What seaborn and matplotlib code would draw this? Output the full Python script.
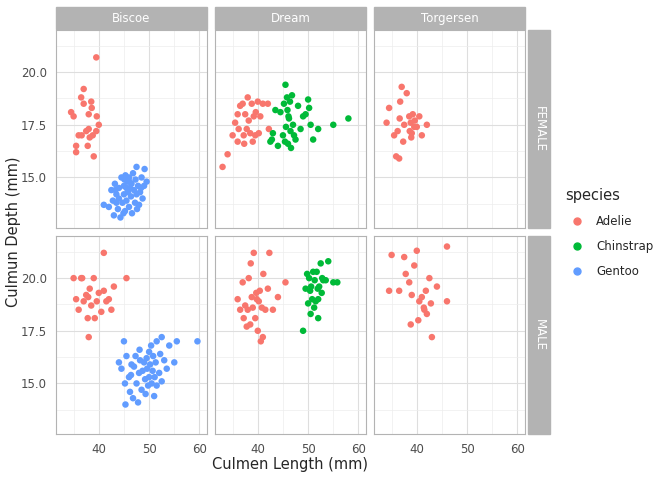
import matplotlib
matplotlib.use("Agg")
import matplotlib.pyplot as plt
import seaborn as sns
import pandas as pd
from matplotlib.patches import Rectangle
from matplotlib.lines import Line2D

islands = ["Biscoe", "Dream", "Torgersen"]
sexes = ["FEMALE", "MALE"]
species_names = ["Adelie", "Chinstrap", "Gentoo"]
palette = {"Adelie": "#F8766D", "Chinstrap": "#00BA38", "Gentoo": "#619CFF"}

# (island, sex, species) -> list of (culmen length, culmen depth)
biscoe_f_adelie = [(34.5, 18.1), (35.0, 17.9), (35.5, 16.2), (36.0, 17.0), (36.5, 18.8), (37.0, 19.2),
                   (37.5, 17.2), (37.8, 16.5), (38.0, 18.0), (38.2, 16.9), (38.5, 18.6), (38.8, 17.0),
                   (39.0, 16.0), (39.5, 17.2), (40.0, 17.5), (39.5, 20.7), (35.5, 16.5), (37.0, 18.5),
                   (38.0, 17.3), (36.6, 17.0), (38.6, 18.3), (39.6, 17.9)]
biscoe_f_gentoo = [(41.0, 13.7), (42.0, 13.6), (42.5, 14.4), (42.8, 13.9), (43.0, 13.2), (43.2, 14.7),
                   (43.5, 13.8), (43.5, 14.2), (43.8, 13.5), (44.0, 14.0), (44.0, 14.5), (44.3, 13.1),
                   (44.5, 15.0), (44.7, 13.8), (45.0, 14.2), (45.0, 14.6), (45.2, 13.4), (45.3, 15.1),
                   (45.5, 14.5), (45.5, 13.9), (45.7, 14.8), (45.8, 14.3), (46.0, 13.6), (46.0, 15.0),
                   (46.2, 14.5), (46.4, 14.1), (46.5, 14.7), (46.6, 13.3), (46.8, 15.2), (47.0, 14.4),
                   (47.2, 13.8), (47.3, 14.9), (47.5, 14.2), (47.5, 15.5), (47.8, 14.6), (48.0, 13.7),
                   (48.2, 14.3), (48.5, 15.0), (48.7, 14.0), (49.0, 14.6), (49.1, 15.4), (49.5, 14.8),
                   (46.1, 14.8), (45.1, 14.9), (44.9, 13.3), (43.3, 14.4), (47.6, 13.5), (48.4, 14.5)]
biscoe_m_adelie = [(35.0, 20.0), (35.5, 19.0), (36.0, 18.5), (36.5, 20.0), (37.0, 18.9), (37.5, 19.2),
                   (37.8, 18.1), (38.0, 17.2), (38.2, 19.5), (38.5, 18.7), (39.0, 20.0), (39.2, 18.1),
                   (39.6, 18.9), (40.0, 19.3), (40.5, 18.4), (41.0, 19.4), (41.0, 21.2), (41.5, 18.9),
                   (42.0, 19.0), (42.5, 18.5), (43.0, 19.6), (45.5, 20.0), (36.7, 20.0), (37.9, 19.1)]
biscoe_m_gentoo = [(44.0, 16.0), (44.5, 15.7), (45.0, 17.0), (45.2, 15.0), (45.5, 16.3), (46.0, 15.3),
                   (46.2, 14.6), (46.5, 15.9), (46.8, 14.3), (47.0, 15.8), (47.3, 16.3), (47.5, 15.0),
                   (47.8, 14.1), (48.0, 15.5), (48.2, 16.1), (48.5, 14.7), (48.7, 15.6), (49.0, 16.0),
                   (49.2, 15.2), (49.5, 16.2), (49.6, 15.7), (49.8, 14.9), (50.0, 15.3), (50.0, 16.5),
                   (50.2, 15.9), (50.4, 16.8), (50.5, 15.0), (50.7, 15.6), (50.8, 16.3), (51.0, 14.4),
                   (51.1, 15.3), (51.3, 16.0), (51.5, 17.0), (51.5, 14.9), (52.0, 15.5), (52.2, 16.4),
                   (52.5, 15.1), (52.5, 17.2), (53.0, 16.1), (53.5, 15.7), (54.0, 16.8), (55.0, 16.0),
                   (55.5, 17.0), (59.6, 17.0), (49.3, 14.5), (48.1, 16.6), (46.4, 15.4), (45.3, 14.0)]
dream_f_adelie = [(33.0, 15.5), (34.0, 16.1), (35.0, 17.0), (35.5, 17.6), (36.0, 18.0), (36.0, 16.7),
                  (36.5, 18.4), (37.0, 18.5), (37.2, 17.0), (37.5, 18.0), (37.8, 17.3), (38.0, 18.8),
                  (38.2, 17.7), (38.5, 17.1), (38.8, 18.5), (39.0, 16.7), (39.2, 17.9), (39.5, 17.0),
                  (39.6, 18.1), (40.0, 18.6), (40.2, 17.1), (40.5, 17.9), (41.0, 18.5), (42.0, 18.5),
                  (42.2, 17.3), (36.2, 17.3), (37.3, 16.6)]
dream_f_chinstrap = [(42.5, 16.7), (43.0, 17.1), (43.5, 18.2), (44.0, 16.5), (45.0, 17.0), (45.2, 18.5),
                     (45.5, 19.4), (45.6, 17.4), (45.8, 18.8), (46.0, 16.6), (46.2, 17.8), (46.4, 18.6),
                     (46.5, 17.2), (46.6, 16.4), (46.8, 18.9), (47.0, 17.5), (47.5, 16.8), (48.0, 18.4),
                     (48.5, 17.3), (49.0, 17.9), (49.5, 18.0), (50.0, 18.7), (50.2, 18.3), (50.5, 17.5),
                     (51.0, 16.8), (52.0, 17.3), (55.0, 17.5), (58.0, 17.8), (46.1, 17.9), (47.2, 17.0),
                     (44.5, 18.1), (42.8, 16.8), (45.4, 16.7), (45.9, 18.2)]
dream_m_adelie = [(36.0, 19.0), (36.5, 18.5), (37.0, 19.8), (37.5, 18.7), (37.8, 17.7), (38.0, 18.5),
                  (38.2, 20.0), (38.5, 17.8), (38.8, 19.1), (39.0, 18.6), (39.2, 21.2), (39.5, 18.1),
                  (39.7, 19.3), (40.0, 17.5), (40.2, 18.9), (40.4, 19.4), (40.6, 17.0), (40.8, 18.6),
                  (41.0, 17.2), (41.1, 20.2), (41.5, 18.5), (42.0, 19.5), (42.3, 21.2), (43.0, 18.5),
                  (44.0, 19.1), (45.5, 19.8), (37.2, 18.1), (39.8, 19.0), (38.6, 20.7)]
dream_m_chinstrap = [(49.0, 17.5), (49.5, 19.5), (50.0, 18.8), (50.2, 20.0), (50.4, 19.4), (50.5, 18.3),
                     (50.8, 19.0), (51.0, 20.3), (51.2, 18.6), (51.3, 19.9), (51.5, 18.9), (51.7, 20.3),
                     (52.0, 19.0), (52.0, 18.1), (52.2, 19.6), (52.5, 20.7), (52.7, 19.3), (52.8, 20.0),
                     (53.0, 19.9), (53.5, 19.9), (54.0, 20.8), (55.0, 19.8), (55.8, 19.8), (50.6, 19.6),
                     (49.8, 20.2), (51.9, 19.5)]
torgersen_f_adelie = [(34.0, 17.6), (34.5, 18.3), (35.5, 17.0), (35.9, 16.0), (36.2, 17.2), (36.5, 15.9),
                      (36.7, 18.6), (37.0, 19.3), (37.3, 16.7), (37.5, 17.5), (38.0, 19.0), (38.5, 17.9),
                      (38.6, 17.2), (38.8, 17.6), (39.0, 17.1), (39.2, 18.0), (39.5, 17.4), (39.6, 17.7),
                      (40.0, 17.4), (40.5, 17.9), (41.0, 17.0), (42.0, 17.5), (38.9, 16.9), (36.6, 17.8)]
torgersen_m_adelie = [(34.5, 19.4), (35.0, 21.1), (36.5, 19.4), (37.5, 21.0), (37.8, 20.2), (38.5, 19.8),
                      (38.8, 17.8), (39.0, 19.2), (39.5, 20.6), (40.0, 21.3), (40.5, 18.9), (41.0, 19.1),
                      (41.5, 18.5), (41.8, 19.4), (42.0, 18.3), (42.5, 20.0), (42.8, 18.8), (43.0, 17.2),
                      (44.0, 19.6), (46.0, 21.5), (46.0, 18.9), (40.3, 18.0), (41.4, 18.6)]

groups = [
    ("Biscoe", "FEMALE", "Adelie", biscoe_f_adelie), ("Biscoe", "FEMALE", "Gentoo", biscoe_f_gentoo),
    ("Biscoe", "MALE", "Adelie", biscoe_m_adelie), ("Biscoe", "MALE", "Gentoo", biscoe_m_gentoo),
    ("Dream", "FEMALE", "Adelie", dream_f_adelie), ("Dream", "FEMALE", "Chinstrap", dream_f_chinstrap),
    ("Dream", "MALE", "Adelie", dream_m_adelie), ("Dream", "MALE", "Chinstrap", dream_m_chinstrap),
    ("Torgersen", "FEMALE", "Adelie", torgersen_f_adelie), ("Torgersen", "MALE", "Adelie", torgersen_m_adelie),
]
rows = []
for isl, sex, sp, pts in groups:
    for x, y in pts:
        rows.append({"island": isl, "sex": sex, "species": sp, "culmen_length": x, "culmen_depth": y})
df = pd.DataFrame(rows)

sns.set_style("white")
plt.rcParams["font.family"] = ["DejaVu Sans"]
fig = plt.figure(figsize=(6.72, 4.8), dpi=100)

W, H = 672, 480
strip_bg = "#B3B3B3"
pw, ph = 151, 198
lefts = [56, 215, 374]
tops = [30, 236]
for r, sex in enumerate(sexes):
    for c, isl in enumerate(islands):
        ax = fig.add_axes([lefts[c] / W, 1 - (tops[r] + ph) / H, pw / W, ph / H])
        sub = df[(df.island == isl) & (df.sex == sex)]
        sns.scatterplot(data=sub, x="culmen_length", y="culmen_depth", hue="species",
                        palette=palette, s=22, linewidth=0, ax=ax, legend=False)
        ax.set_xlim(31.5, 61.5)
        ax.set_ylim(12.6, 22.0)
        ax.set_xticks([40, 50, 60])
        ax.set_yticks([15, 17.5, 20])
        ax.set_xticks([35, 45, 55], minor=True)
        ax.set_yticks([13.75, 16.25, 18.75, 21.25], minor=True)
        ax.grid(True, which="major", color="#DEDEDE", linewidth=0.8)
        ax.grid(True, which="minor", color="#EDEDED", linewidth=0.5)
        ax.set_axisbelow(True)
        for s in ax.spines.values():
            s.set_color("#B3B3B3")
            s.set_linewidth(0.8)
        ax.tick_params(which="both", length=0, labelsize=8.5, labelcolor="#4D4D4D", color="#B3B3B3")
        ax.tick_params(which="major", length=3)
        ax.set_xlabel("")
        ax.set_ylabel("")
        if r == 0:
            ax.set_xticklabels([])
        if c > 0:
            ax.set_yticklabels([])
        if r == 0:
            ax.add_patch(Rectangle((0, 1.005), 1, 22 / ph, transform=ax.transAxes,
                                   color=strip_bg, clip_on=False))
            ax.text(0.5, 1.005 + 11 / ph, isl, transform=ax.transAxes, ha="center", va="center",
                    color="white", fontsize=8.5)
        if c == 2:
            ax.add_patch(Rectangle((1.02, 0), 22 / pw, 1, transform=ax.transAxes,
                                   color=strip_bg, clip_on=False))
            ax.text(1.02 + 11 / pw, 0.5, sex, transform=ax.transAxes, ha="center", va="center",
                    color="white", fontsize=8.5, rotation=-90)

fig.text(290 / W, 1 - 465 / H, "Culmen Length (mm)", ha="center", va="center", fontsize=10.5)
fig.text(14 / W, 1 - 232 / H, "Culmun Depth (mm)", ha="center", va="center", fontsize=10.5, rotation=90)

handles = [Line2D([], [], marker="o", linestyle="", color=palette[s], markersize=5) for s in species_names]
fig.legend(handles, species_names, title="species", loc="center left",
           bbox_to_anchor=(555 / W, 1 - 233 / H), frameon=False, fontsize=8.5,
           title_fontsize=10.5, handletextpad=0.6, labelspacing=1.0, alignment="left")

fig.savefig("out.png", dpi=100)
